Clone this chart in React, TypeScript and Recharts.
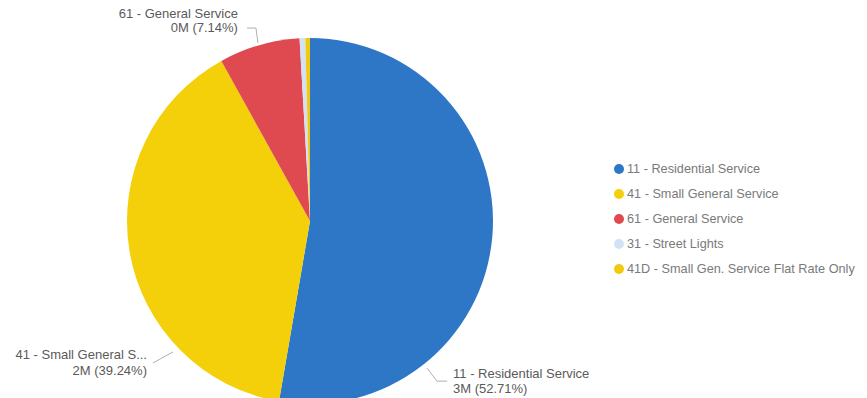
import React from 'react';
import { PieChart, Pie, Cell, Legend } from 'recharts';

const categories = [
  '11 - Residential Service',
  '41 - Small General Service',
  '61 - General Service',
  '31 - Street Lights',
  '41D - Small Gen. Service Flat Rate Only',
];
const labelNames = ['11 - Residential Service', '41 - Small General S...', '61 - General Service', '', ''];
const values = [2899050, 2158200, 392700, 27500, 22550];
const colors = ['#2E77C6', '#F4D00A', '#DE4A4F', '#D2E2F4', '#F3C90F'];

// label placement: angle clockwise from 12 o'clock, extra radius, elbow offset, horizontal run, text gap, line offsets
const labelLayout: any[] = [
  { angle: 141.5, r: 5, ex: 10, ey: 13, hx: 10, anchor: 'start', gap: 6, l1: -8, l2: 7 },
  { angle: 226.3, r: 6.5, ex: -20, ey: 11, hx: 0, anchor: 'end', gap: 6, l1: -8, l2: 8 },
  { angle: 343.7, r: 2.4, ex: -2, ey: -15, hx: -9, anchor: 'end', gap: 9, l1: -15, l2: -1 },
  null,
  null,
];

const data = categories.map((name, i) => ({ name, value: values[i] }));
const FONT = '"Liberation Sans", Arial, sans-serif';

const renderLabel = (props: any) => {
  const { cx, cy, outerRadius, index, value, percent } = props;
  const cfg = labelLayout[index];
  if (!cfg) return null;
  const a = (cfg.angle * Math.PI) / 180;
  const R = outerRadius + cfg.r;
  const x0 = cx + R * Math.sin(a);
  const y0 = cy - R * Math.cos(a);
  const x1 = x0 + cfg.ex;
  const y1 = y0 + cfg.ey;
  const x2 = x1 + cfg.hx;
  const tx = cfg.anchor === 'start' ? x2 + cfg.gap : x2 - cfg.gap;
  const valText = `${Math.round(value / 1e6)}M (${(percent * 100).toFixed(2)}%)`;
  return (
    <g key={`lbl-${index}`}>
      <polyline points={`${x0},${y0} ${x1},${y1} ${x2},${y1}`} fill="none" stroke="#b0b0b0" strokeWidth={1} />
      <text x={tx} y={y1 + cfg.l1} textAnchor={cfg.anchor} dominantBaseline="central" fill="#5a5a5a" fontSize={13} fontFamily={FONT}>
        {labelNames[index]}
      </text>
      <text x={tx} y={y1 + cfg.l2} textAnchor={cfg.anchor} dominantBaseline="central" fill="#5a5a5a" fontSize={13} fontFamily={FONT}>
        {valText}
      </text>
    </g>
  );
};

const renderLegend = () => (
  <div style={{ fontFamily: FONT, fontSize: 12.7, color: '#7a7a7a' }}>
    {categories.map((c, i) => (
      <div key={c} style={{ height: 25, display: 'flex', alignItems: 'center', whiteSpace: 'nowrap' }}>
        <svg width={10} height={10} style={{ marginRight: 3, flex: 'none' }}>
          <circle cx={5} cy={5} r={5} fill={colors[i]} />
        </svg>
        <span>{c}</span>
      </div>
    ))}
  </div>
);

export default function App() {
  return (
    <div style={{ position: 'absolute', left: 0, top: 0, width: 867, height: 398, background: '#fff', overflow: 'hidden' }}>
      <PieChart width={867} height={398} margin={{ top: 0, right: 0, bottom: 0, left: 0 }} style={{ fontFamily: FONT }}>
        <Pie
          data={data}
          dataKey="value"
          nameKey="name"
          cx={310}
          cy={221}
          outerRadius={183}
          startAngle={90}
          endAngle={-270}
          stroke="none"
          label={renderLabel}
          labelLine={false}
          isAnimationActive={false}
        >
          {data.map((d, i) => (
            <Cell key={d.name} fill={colors[i]} />
          ))}
        </Pie>
        <Legend
          layout="vertical"
          align="right"
          verticalAlign="top"
          content={renderLegend}
          wrapperStyle={{ left: 614, top: 156, width: 253, right: 'auto' }}
        />
      </PieChart>
    </div>
  );
}
